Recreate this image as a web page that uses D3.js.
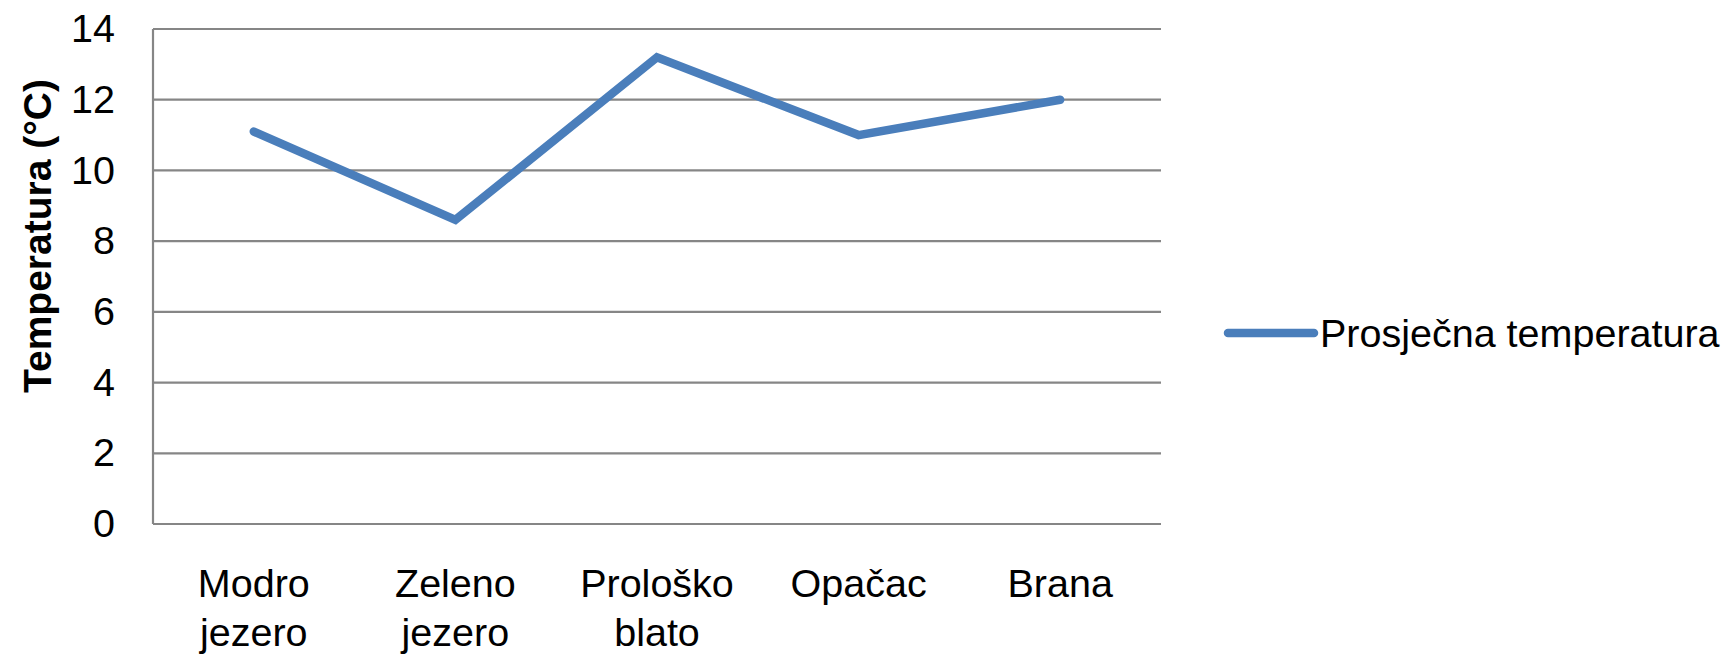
<!DOCTYPE html>
<html>
<head>
<meta charset="utf-8">
<script src="https://cdn.jsdelivr.net/npm/d3@7"></script>
<style>
  body { margin: 0; background: #fff; }
  text { font-family: "Liberation Sans", sans-serif; fill: #000; }
</style>
</head>
<body>
<div class="chart"></div>
<script>
// data
const categories = [["Modro", "jezero"], ["Zeleno", "jezero"], ["Prološko", "blato"], ["Opačac"], ["Brana"]];
const temperatures = [11.1, 8.6, 13.2, 11.0, 12.0];
const yTicks = [0, 2, 4, 6, 8, 10, 12, 14];
const seriesName = "Prosječna temperatura";
const yTitle = "Temperatura (°C)";

const W = 1724, H = 656;
const margin = { top: 29, left: 153, right: 563, bottom: 132 };
const fontSize = 39.5;

let svg = d3.select('.chart').append('svg')
	.attr('width', W)
	.attr('height', H);

let keys = categories.map(function (d) { return d.join(' ') });

let x = d3.scaleBand().domain(keys).range([margin.left, W - margin.right]);
let y = d3.scaleLinear().domain([0, 14]).range([H - margin.bottom, margin.top]);

// grid lines
svg.append('g').selectAll('line')
	.data(yTicks)
	.enter().append('line')
	.attr('x1', margin.left)
	.attr('x2', W - margin.right)
	.attr('y1', function (d) { return y(d) })
	.attr('y2', function (d) { return y(d) })
	.style('stroke', '#868686')
	.style('stroke-width', 2.2);

// left axis line
svg.append('line')
	.attr('x1', margin.left).attr('x2', margin.left)
	.attr('y1', y(0)).attr('y2', y(14))
	.style('stroke', '#868686')
	.style('stroke-width', 2.2);

// y tick labels
let yAxis = d3.axisLeft(y).tickValues(yTicks).tickSize(0).tickPadding(38);
let gy = svg.append('g')
	.attr('transform', 'translate(' + margin.left + ',0)')
	.call(yAxis);
gy.select('.domain').remove();
gy.selectAll('text')
	.style('font-size', fontSize + 'px')
	.attr('font-family', null);

// x labels
let gx = svg.append('g');
categories.forEach(function (lines, i) {
	let t = gx.append('text')
		.attr('x', x(keys[i]) + x.bandwidth() / 2)
		.attr('y', 597)
		.attr('text-anchor', 'middle')
		.style('font-size', fontSize + 'px');
	lines.forEach(function (l, j) {
		t.append('tspan')
			.attr('x', x(keys[i]) + x.bandwidth() / 2)
			.attr('dy', j == 0 ? 0 : 49)
			.text(l);
	});
});

// y title
svg.append('text')
	.attr('transform', 'translate(51,236) rotate(-90)')
	.attr('text-anchor', 'middle')
	.style('font-size', '39px')
	.style('font-weight', 'bold')
	.text(yTitle);

// series line
let line = d3.line()
	.x(function (d, i) { return x(keys[i]) + x.bandwidth() / 2 })
	.y(function (d) { return y(d) });

svg.append('path')
	.datum(temperatures)
	.attr('d', line)
	.style('fill', 'none')
	.style('stroke', '#4a7ebb')
	.style('stroke-width', 8.5)
	.style('stroke-linecap', 'round')
	.style('stroke-linejoin', 'miter');

// legend
let legend = svg.append('g');
legend.append('line')
	.attr('x1', 1228).attr('x2', 1314)
	.attr('y1', 333).attr('y2', 333)
	.style('stroke', '#4a7ebb')
	.style('stroke-width', 8.5)
	.style('stroke-linecap', 'round');
legend.append('text')
	.attr('x', 1320)
	.attr('y', 347)
	.style('font-size', fontSize + 'px')
	.text(seriesName);
</script>
</body>
</html>
